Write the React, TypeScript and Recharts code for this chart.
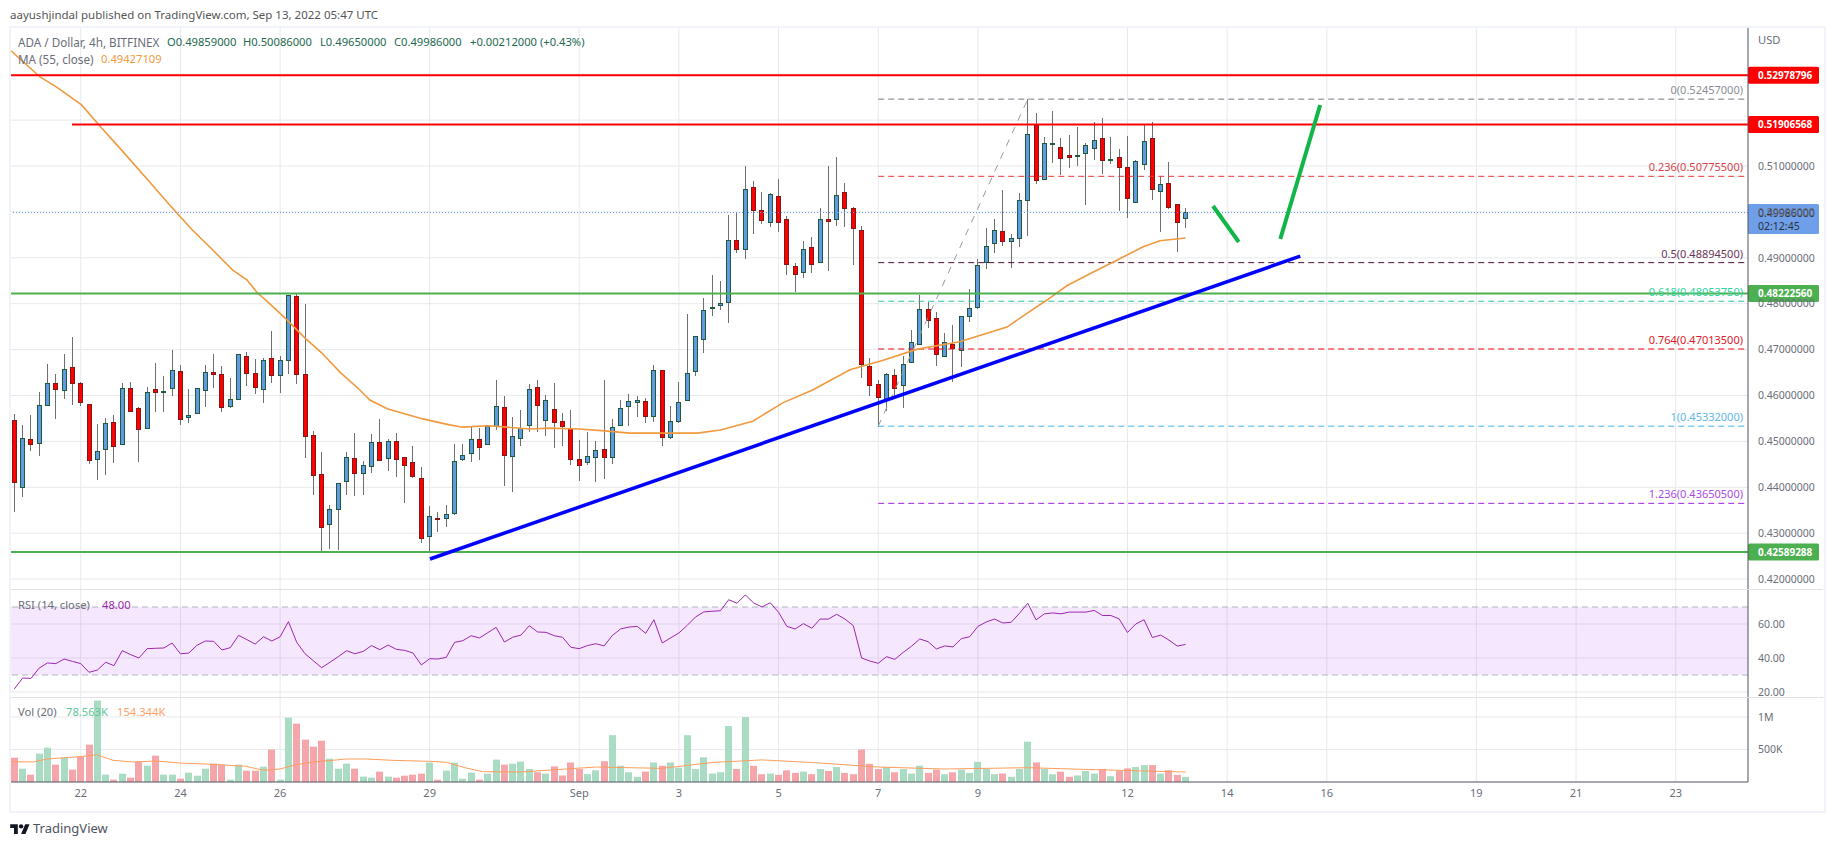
import React from "react";
import { ComposedChart, Bar, Line, XAxis, YAxis, CartesianGrid, ReferenceLine, ReferenceArea } from "recharts";

// Prices below are in units of 0.0001 USD, one entry per 4h candle.
const highs = [4559,4536,4557,4608,4668,4647,4690,4728,4630,4581,
4538,4551,4557,4627,4630,4575,4618,4670,4643,4699,
4666,4614,4616,4666,4690,4664,4638,4690,4695,4680,
4682,4740,4686,4819,4821,4799,4523,4477,4361,4409,
4477,4518,4457,4516,4549,4505,4518,4466,4490,4444,
4359,4346,4361,4494,4494,4532,4529,4534,4634,4599,
4553,4568,4625,4634,4601,4627,4562,4568,4503,4521,
4501,4634,4549,4590,4603,4599,4595,4666,4656,4577,
4630,4777,4730,4812,4862,4849,4993,4998,5100,5067,
5043,5041,5071,4991,4889,4937,4945,5008,5100,5120,
5063,5010,4969,4682,4634,4649,4658,4686,4743,4819,
4804,4782,4736,4754,4773,4832,4897,4965,4985,5048,
4952,5041,5246,5215,5163,5220,5161,5168,5185,5150,
5196,5205,5163,5137,5165,5113,5192,5196,5078,5109,
5017,5009];
const lows = [4347,4379,4479,4468,4579,4548,4592,4579,4577,4451,
4416,4427,4453,4494,4566,4455,4529,4564,4564,4599,
4536,4540,4561,4575,4616,4564,4573,4592,4621,4603,
4584,4627,4605,4647,4625,4464,4383,4261,4265,4263,
4383,4381,4383,4431,4460,4436,4423,4366,4420,4279,
4261,4303,4314,4340,4457,4455,4460,4494,4525,4403,
4390,4490,4521,4521,4512,4486,4490,4449,4414,4449,
4412,4418,4451,4536,4534,4553,4540,4542,4490,4505,
4540,4590,4643,4693,4773,4786,4758,4910,4897,4952,
4973,4967,4956,4862,4826,4856,4867,4891,4871,4969,
4967,4884,4638,4599,4532,4566,4595,4573,4671,4712,
4747,4664,4686,4630,4662,4760,4788,4875,4910,4926,
4878,4924,4947,5061,5072,5106,5080,5096,5100,5015,
5113,5083,5104,5002,4987,5022,5091,5026,4956,5006,
4913,4965];
const opens = [4547,4401,4505,4496,4579,4627,4612,4662,4627,4581,
4462,4483,4542,4494,4616,4573,4529,4614,4608,4616,
4653,4553,4561,4612,4651,4647,4577,4592,4686,4649,
4614,4682,4645,4677,4817,4647,4514,4429,4320,4353,
4414,4464,4431,4447,4499,4464,4501,4466,4455,4420,
4294,4333,4333,4344,4462,4475,4505,4494,4534,4575,
4468,4508,4536,4618,4547,4570,4545,4529,4462,4455,
4466,4483,4466,4536,4577,4586,4588,4555,4656,4510,
4545,4590,4653,4723,4791,4797,4804,4939,4919,5054,
5004,4978,5035,4985,4882,4869,4924,4891,4985,4985,
5043,5008,4961,4664,4625,4590,4645,4623,4673,4712,
4788,4769,4686,4712,4699,4773,4793,4891,4932,4958,
4937,4943,5026,5189,5072,5148,5141,5124,5122,5128,
5139,5161,5113,5120,5098,5022,5104,5161,5045,5063,
5017,4986];
const closes = [4412,4508,4494,4579,4627,4614,4657,4627,4586,4460,
4479,4540,4490,4616,4566,4527,4608,4608,4610,4656,
4548,4557,4616,4651,4647,4575,4592,4690,4649,4618,
4677,4645,4677,4819,4647,4512,4427,4314,4353,4409,
4466,4431,4449,4499,4460,4501,4462,4449,4425,4289,
4338,4331,4342,4457,4470,4505,4488,4534,4577,4470,
4512,4529,4614,4579,4590,4542,4534,4462,4449,4468,
4481,4466,4532,4573,4588,4590,4555,4656,4510,4545,
4586,4649,4730,4786,4793,4801,4939,4919,5050,5004,
4982,5039,4978,4887,4865,4919,4887,4985,4980,5037,
5008,4965,4668,4623,4597,4647,4616,4668,4716,4788,
4764,4690,4716,4703,4773,4791,4884,4926,4961,4937,
4943,5026,5170,5069,5150,5150,5117,5120,5124,5146,
5157,5113,5115,5098,5030,5111,5155,5050,5061,5010,
4978,4999];
const rsi = [21.8,28.2,28,34.1,37.1,36.7,39.4,38,36.7,31.6,
32.9,37.5,35.5,44.3,42,40,45.5,45.7,45.9,48.8,
42.5,42.9,47.5,50,49.8,44.7,46.1,53.3,50.8,48.2,
52.5,50,52.5,61.4,49.2,42.5,38.4,34.3,37.5,40.8,
44.3,42.5,43.9,47.3,44.9,47.6,45.1,44.5,42.9,35.9,
39.6,39.4,40.4,49.2,50.2,53.1,51.8,54.9,58,49.4,
52.2,53.5,59,55.3,55.1,53.1,52.2,46.3,45.5,47.3,
48.4,47.1,53.3,57.1,58.2,58.6,54.5,62.5,48.8,51.8,
54.7,59.2,64.1,67.1,67.5,67.8,74.3,72.2,77.1,72.4,
70,72.5,66.9,58.6,57.1,60.2,57.5,62.9,62.9,65.7,
62.9,59,40,38.2,36.9,40.8,39.2,43.3,46.9,51.2,
49.6,45.3,47.1,46.5,51.4,52.5,58.6,61.2,62.9,60.6,
61,66.3,72.2,62.4,66,66.5,66,67,67,67,
68,65,65,63,55,60,62.5,52,53.5,50.5,
47,48];
// Volume in thousands.
const volumes = [374,205,113,436,528,267,374,190,390,575,
1252,113,36,128,67,313,251,405,113,113,
51,144,97,205,282,267,36,267,174,174,
236,498,36,990,898,652,544,636,359,205,
282,205,82,67,159,82,67,97,113,128,
298,36,174,298,51,144,36,128,344,267,
282,313,200,150,130,240,100,300,200,120,
180,320,720,250,150,80,160,300,250,300,
220,720,200,380,130,150,860,200,1000,250,
120,130,110,180,140,160,120,200,170,230,
140,120,500,280,200,230,150,200,130,250,
140,190,120,150,190,140,310,200,120,130,
80,200,620,300,200,120,160,80,100,170,
130,200,90,170,210,230,260,260,130,180,
110,79];
const maIndex = [-0.39,3.1,5.1,8.1,10.3,12.7,16.3,18.7,21.4,23.9,26.3,28,29.2,30.8,32.7,35,37,39.2,41.6,42.8,44.9,47.6,49.2,50.9,52.4,54,56.9,59.3,62,64.5,68,71.1,74.1,78,82.2,85,88.9,92.5,96.1,100.6,104.6,108.7,113.8,119.5,121.1,124.3,126.7,129.9,132.3,135.9,137.9,141];
const maValue = [5351,5294,5272,5233,5187,5139,5065,5015,4961,4917,4873,4852,4825,4799,4767,4725,4693,4651,4612,4590,4571,4557,4549,4542,4536,4531,4534,4531,4527,4529,4527,4523,4518,4518,4518,4525,4544,4584,4612,4656,4677,4701,4717,4749,4769,4808,4839,4869,4891,4924,4937,4943];
const volMaIndex = [-0.39,2.3,3.9,7.9,9.9,11.9,14.3,17.1,19.9,23.9,27.9,30,32,33.6,35.6,40,42.4,45.6,50,52,54.4,56.4,61,70,78,84,90,96,104,112,122,130,136,141];
const volMaValue = [313,308,354,390,420,333,308,323,292,272,241,180,200,256,302,354,354,333,318,303,215,159,154,230,210,300,340,300,230,200,220,190,170,154];

const tickIndex = [8,20,32,50,68,80,92,104,116,134,146,158,176,188,200];
const tickLabels = ["22","24","26","29","Sep","3","5","7","9","12","14","16","19","21","23"];
const priceTicks = [0.42,0.43,0.44,0.45,0.46,0.47,0.48,0.49,0.5,0.51,0.52,0.53];
const rsiTicks = [20,40,60];
const volTicks = [500,1000];
const fibLevels = [
  { name: "0", price: 0.52457, color: "#787b86", text: "#8a8d96" },
  { name: "0.236", price: 0.507755, color: "#e53935", text: "#d9444c" },
  { name: "0.5", price: 0.488945, color: "#4a0f36", text: "#6a3558" },
  { name: "0.618", price: 0.4805375, color: "#2bc79a", text: "#2ed3a0" },
  { name: "0.764", price: 0.470135, color: "#f00a14", text: "#d81b2a" },
  { name: "1", price: 0.45332, color: "#3fb0e6", text: "#62b6e6" },
  { name: "1.236", price: 0.436505, color: "#a020e0", text: "#a94be6" },
];
const levels = [
  { price: 0.52978796, color: "#ff0000", start: -0.39 },
  { price: 0.51906568, color: "#ff0000", start: 6.95 },
  { price: 0.4822256, color: "#4caf50", start: -0.39 },
  { price: 0.42589288, color: "#4caf50", start: -0.39 },
];
const lastPrice = 0.49986;

const X_DOMAIN = [-0.397, 208.7];
const FONT = "'Noto Sans', sans-serif";
const GRID = "#e8e9ed";
const AXIS = "#50535e";
const TEXT = "#6a6d78";

const candles = highs.map((h, i) => ({
  i,
  hl: [lows[i] / 1e4, h / 1e4],
  o: opens[i] / 1e4,
  h: h / 1e4,
  l: lows[i] / 1e4,
  c: closes[i] / 1e4,
}));
const maData = maIndex.map((i, k) => ({ i, ma: maValue[k] / 1e4 }));
const rsiData = rsi.map((v, i) => ({ i, rsi: v }));
const volData = volumes.map((v, i) => ({ i, vol: v, up: closes[i] >= opens[i] }));
const volMaData = volMaIndex.map((i, k) => ({ i, volMa: volMaValue[k] }));

const Candle = (props: any) => {
  const { x, y, width, height, payload } = props;
  const { o, h, l, c } = payload;
  const k = Math.abs(height) / (h - l);
  const py = (v: number) => Math.round(y + (h - v) * k);
  const up = c >= o;
  const xr = Math.round(x + width / 2 - 2.5);
  const top = py(Math.max(o, c));
  const bot = Math.max(py(Math.min(o, c)), top + 1);
  return (
    <g>
      <line x1={xr + 2.5} x2={xr + 2.5} y1={py(h)} y2={py(l)} stroke="#6f6f6f" strokeWidth={1} />
      <rect x={xr + 0.5} y={top + 0.5} width={4} height={bot - top} fill={up ? "#5f9ae3" : "#ff0000"} stroke={up ? "#1f5a3c" : "#801818"} strokeWidth={1} />
    </g>
  );
};

const VolBar = (props: any) => {
  const { x, y, width, height, payload } = props;
  const cx = x + width / 2;
  return <rect x={Math.round(cx - 3.5)} y={y} width={7} height={height} fill={payload.up ? "#a9dcc3" : "#f5a6ab"} />;
};

const tag = (text: string, fill: string, sub?: string, color = "#ffffff") => (props: any) => {
  const vb = props.viewBox || {};
  const x = (vb.x || 0) + (vb.width || 0);
  const y = vb.y || 0;
  if (sub) {
    return (
      <g>
        <rect x={x} y={y - 8.5} width={71} height={30} rx={1.5} fill={fill} />
        <text x={x + 10} y={y + 4} fontSize={10.5} fontFamily={FONT} fill={color}>{text}</text>
        <text x={x + 10} y={y + 17} fontSize={10.5} fontFamily={FONT} fill={color}>{sub}</text>
      </g>
    );
  }
  return (
    <g>
      <rect x={x} y={y - 8.5} width={71} height={17} rx={1.5} fill={fill} />
      <text x={x + 10} y={y + 4} fontSize={10} fontWeight={700} fontFamily={FONT} fill={color}>{text}</text>
    </g>
  );
};

const Txt = ({ x, y, c = TEXT, s = 11.2, w, children }: any) => (
  <div style={{ position: "absolute", left: x, top: y, color: c, fontSize: s, fontWeight: w, lineHeight: "14px", whiteSpace: "nowrap", fontFamily: FONT, pointerEvents: "none", zIndex: 5 }}>{children}</div>
);

const Hr = ({ y }: any) => <div style={{ position: "absolute", left: 11, top: y, width: 1812, height: 1, background: "#dfe1e6", zIndex: 4 }} />;

const VAL = "#22694f";

export default function App() {
  return (
    <div style={{ position: "absolute", left: 0, top: 0, width: 1834, height: 845, background: "#fff", overflow: "hidden", fontFamily: FONT }}>
      <Txt x={10} y={8} c="#555" s={11.5}>aayushjindal published on TradingView.com, Sep 13, 2022 05:47 UTC</Txt>
      <div style={{ position: "absolute", left: 9, top: 26, width: 1813, height: 783, border: "2px solid #f0f3fa" }} />

      <div style={{ position: "absolute", left: 11, top: 28 }}>
        <ComposedChart width={1812} height={561} data={candles} margin={{ top: 0, right: 0, bottom: 0, left: 0 }}>
          <CartesianGrid stroke={GRID} horizontalValues={priceTicks} verticalValues={tickIndex} />
          <XAxis hide dataKey="i" type="number" domain={X_DOMAIN} ticks={tickIndex} allowDataOverflow />
          <YAxis orientation="right" width={75} domain={[0.41784, 0.54007]} ticks={priceTicks} interval={0} allowDataOverflow
            tickLine={false} tickSize={0} tickMargin={10} axisLine={{ stroke: AXIS }}
            tick={{ fill: TEXT, fontSize: 10.5, fontFamily: FONT, textAnchor: "start" }}
            tickFormatter={(v: number) => (v > 0.515 ? "" : v.toFixed(8))} />
          <ReferenceLine y={lastPrice} stroke="#5b95ee" strokeDasharray="1 2" label={tag("0.49986000", "#6f9fe8", "02:12:45", "#2a3140")} />
          {fibLevels.map((f) => (
            <ReferenceLine key={f.name} segment={[{ x: 104, y: f.price }, { x: 208.7, y: f.price }]} stroke={f.color} strokeDasharray="6 4"
              label={{ value: `${f.name}(${f.price.toFixed(8)})`, position: "insideBottomRight", offset: 5, fill: f.text, fontSize: 11, fontFamily: FONT }} />
          ))}
          <ReferenceLine segment={[{ x: 104, y: 0.45332 }, { x: 122, y: 0.52457 }]} stroke="#9a9a9a" strokeDasharray="7 7" />
          <Bar dataKey="hl" barSize={5} shape={Candle} isAnimationActive={false} />
          <Line data={maData} dataKey="ma" stroke="#f0993e" strokeWidth={1.6} dot={false} isAnimationActive={false} />
          {levels.map((l) => (
            <ReferenceLine key={l.price} segment={[{ x: l.start, y: l.price }, { x: 208.7, y: l.price }]} stroke={l.color} strokeWidth={2}
              label={tag(l.price.toFixed(8), l.color)} />
          ))}
          <ReferenceLine segment={[{ x: 50.04, y: 0.42438 }, { x: 154.8, y: 0.49035 }]} stroke="#0000ff" strokeWidth={3.5} />
          <ReferenceLine segment={[{ x: 144.3, y: 0.50129 }, { x: 147.4, y: 0.49344 }]} stroke="#12b547" strokeWidth={4} />
          <ReferenceLine segment={[{ x: 152.4, y: 0.4941 }, { x: 157.2, y: 0.52329 }]} stroke="#12b547" strokeWidth={4} />
        </ComposedChart>
      </div>
      <Hr y={589} />

      <div style={{ position: "absolute", left: 11, top: 590 }}>
        <ComposedChart width={1812} height={111} data={rsiData} margin={{ top: 0, right: 0, bottom: 4, left: 0 }}>
          <CartesianGrid stroke={GRID} horizontalValues={rsiTicks} verticalValues={tickIndex} />
          <XAxis hide dataKey="i" type="number" domain={X_DOMAIN} ticks={tickIndex} allowDataOverflow />
          <YAxis orientation="right" width={75} domain={[17.06, 80]} ticks={rsiTicks} interval={0} allowDataOverflow
            tickLine={false} tickSize={0} tickMargin={10} axisLine={{ stroke: AXIS }}
            tick={{ fill: TEXT, fontSize: 10.5, fontFamily: FONT, textAnchor: "start" }}
            tickFormatter={(v: number) => v.toFixed(2)} />
          <ReferenceArea y1={30} y2={70} fill="#a020f0" fillOpacity={0.11} stroke="none" />
          <ReferenceLine y={70} stroke="#b2b5be" strokeDasharray="6 4" />
          <ReferenceLine y={30} stroke="#b2b5be" strokeDasharray="6 4" />
          <Line dataKey="rsi" stroke="#9c27b0" strokeWidth={1} dot={false} isAnimationActive={false} />
        </ComposedChart>
      </div>
      <Hr y={697} />

      <div style={{ position: "absolute", left: 11, top: 698 }}>
        <ComposedChart width={1812} height={112} data={volData} margin={{ top: 0, right: 0, bottom: 0, left: 0 }}>
          <CartesianGrid stroke={GRID} horizontalValues={volTicks} verticalValues={tickIndex} />
          <XAxis dataKey="i" type="number" domain={X_DOMAIN} ticks={tickIndex} interval={0} allowDataOverflow height={28}
            tickLine={false} tickSize={0} tickMargin={7} axisLine={{ stroke: AXIS }}
            tick={{ fill: TEXT, fontSize: 11, fontFamily: FONT }}
            tickFormatter={(v: number) => tickLabels[tickIndex.indexOf(v)]} />
          <YAxis orientation="right" width={75} domain={[0, 1292]} ticks={volTicks} interval={0} allowDataOverflow
            tickLine={false} tickSize={0} tickMargin={10} axisLine={{ stroke: AXIS }}
            tick={{ fill: TEXT, fontSize: 10.5, fontFamily: FONT, textAnchor: "start" }}
            tickFormatter={(v: number) => (v >= 1000 ? "1M" : `${v}K`)} />
          <Bar dataKey="vol" barSize={7} shape={VolBar} isAnimationActive={false} />
          <Line data={volMaData} dataKey="volMa" stroke="#ff9d5c" strokeWidth={1} dot={false} isAnimationActive={false} />
        </ComposedChart>
      </div>

      <Txt x={1758} y={33}>USD</Txt>
      <Txt x={18} y={35} s={11.7}>ADA / Dollar, 4h, BITFINEX</Txt>
      <Txt x={167} y={35} c={VAL}>O0.49859000</Txt>
      <Txt x={243} y={35} c={VAL}>H0.50086000</Txt>
      <Txt x={320} y={35} c={VAL}>L0.49650000</Txt>
      <Txt x={394} y={35} c={VAL}>C0.49986000</Txt>
      <Txt x={470} y={35} c={VAL}>+0.00212000 (+0.43%)</Txt>
      <Txt x={18} y={52} s={11.7}>MA (55, close)</Txt>
      <Txt x={101} y={52} c="#f09a3e">0.49427109</Txt>
      <Txt x={18} y={598}>RSI (14, close)</Txt>
      <Txt x={102} y={598} c="#9c27b0">48.00</Txt>
      <Txt x={18} y={705}>Vol (20)</Txt>
      <Txt x={66} y={705} c="#5fc79a">78.563K</Txt>
      <Txt x={117} y={705} c="#ffa066">154.344K</Txt>

      <svg style={{ position: "absolute", left: 10, top: 822 }} width={20} height={12} viewBox="0 0 36 22">
        <path d="M14 22H7V11H0V4h14v18zM28 22h-8l7.5-18h8L28 22z" fill="#131722" />
        <circle cx="20" cy="8" r="4" fill="#131722" />
      </svg>
      <Txt x={33} y={821} c="#50535e" s={13}>TradingView</Txt>
    </div>
  );
}
